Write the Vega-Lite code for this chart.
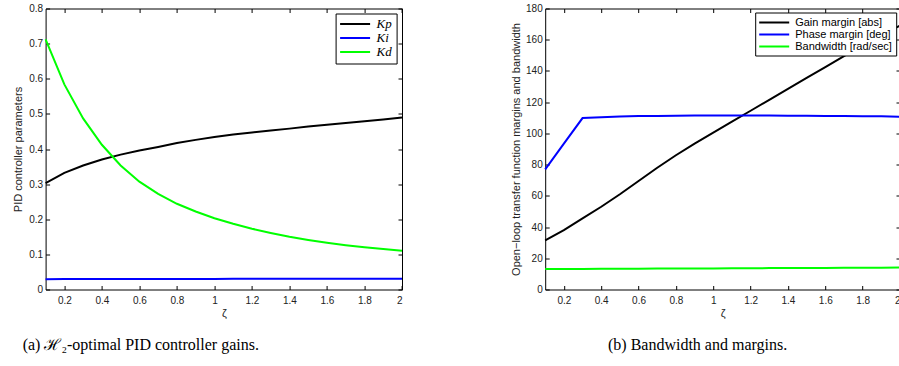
{
  "$schema": "https://vega.github.io/schema/vega-lite/v6.json",
  "autosize": {"type": "none"},
  "padding": {"left": 45.6, "top": 8.5, "right": 853.4, "bottom": 357.5},
  "background": "white",
  "datasets": {
    "gains": [
      {"z": 0.1, "Kp": 0.303, "Ki": 0.0295, "Kd": 0.712},
      {"z": 0.2, "Kp": 0.332, "Ki": 0.0297, "Kd": 0.584},
      {"z": 0.3, "Kp": 0.353, "Ki": 0.0298, "Kd": 0.487},
      {"z": 0.4, "Kp": 0.370, "Ki": 0.0299, "Kd": 0.412},
      {"z": 0.5, "Kp": 0.384, "Ki": 0.0300, "Kd": 0.353},
      {"z": 0.6, "Kp": 0.396, "Ki": 0.0300, "Kd": 0.307},
      {"z": 0.7, "Kp": 0.406, "Ki": 0.0301, "Kd": 0.272},
      {"z": 0.8, "Kp": 0.417, "Ki": 0.0301, "Kd": 0.244},
      {"z": 0.9, "Kp": 0.426, "Ki": 0.0302, "Kd": 0.222},
      {"z": 1.0, "Kp": 0.434, "Ki": 0.0302, "Kd": 0.203},
      {"z": 1.1, "Kp": 0.441, "Ki": 0.0303, "Kd": 0.187},
      {"z": 1.2, "Kp": 0.447, "Ki": 0.0303, "Kd": 0.173},
      {"z": 1.3, "Kp": 0.453, "Ki": 0.0304, "Kd": 0.161},
      {"z": 1.4, "Kp": 0.458, "Ki": 0.0304, "Kd": 0.150},
      {"z": 1.5, "Kp": 0.464, "Ki": 0.0305, "Kd": 0.141},
      {"z": 1.6, "Kp": 0.469, "Ki": 0.0305, "Kd": 0.133},
      {"z": 1.7, "Kp": 0.474, "Ki": 0.0306, "Kd": 0.126},
      {"z": 1.8, "Kp": 0.479, "Ki": 0.0306, "Kd": 0.120},
      {"z": 1.9, "Kp": 0.484, "Ki": 0.0307, "Kd": 0.115},
      {"z": 2.0, "Kp": 0.490, "Ki": 0.0307, "Kd": 0.110}
    ],
    "loop": [
      {"z": 0.1, "gm": 31.5, "pm": 77.0, "bw": 13.2},
      {"z": 0.2, "gm": 38.0, "pm": 93.4, "bw": 13.2},
      {"z": 0.3, "gm": 45.5, "pm": 109.8, "bw": 13.2},
      {"z": 0.4, "gm": 53.0, "pm": 110.4, "bw": 13.3},
      {"z": 0.5, "gm": 61.0, "pm": 110.8, "bw": 13.3},
      {"z": 0.6, "gm": 69.5, "pm": 111.1, "bw": 13.3},
      {"z": 0.7, "gm": 78.0, "pm": 111.2, "bw": 13.4},
      {"z": 0.8, "gm": 86.0, "pm": 111.3, "bw": 13.4},
      {"z": 0.9, "gm": 93.5, "pm": 111.4, "bw": 13.5},
      {"z": 1.0, "gm": 100.5, "pm": 111.4, "bw": 13.5},
      {"z": 1.1, "gm": 107.5, "pm": 111.4, "bw": 13.6},
      {"z": 1.2, "gm": 114.5, "pm": 111.4, "bw": 13.6},
      {"z": 1.3, "gm": 121.5, "pm": 111.4, "bw": 13.7},
      {"z": 1.4, "gm": 128.5, "pm": 111.3, "bw": 13.7},
      {"z": 1.5, "gm": 135.5, "pm": 111.3, "bw": 13.8},
      {"z": 1.6, "gm": 142.5, "pm": 111.2, "bw": 13.8},
      {"z": 1.7, "gm": 149.5, "pm": 111.1, "bw": 13.9},
      {"z": 1.8, "gm": 156.5, "pm": 111.0, "bw": 13.9},
      {"z": 1.9, "gm": 163.0, "pm": 110.9, "bw": 14.0},
      {"z": 2.0, "gm": 169.0, "pm": 110.7, "bw": 14.1}
    ]
  },
  "spacing": 142.6,
  "bounds": "flush",
  "resolve": {"scale": {"color": "independent"}},
  "hconcat": [
    {
      "width": 356.4,
      "height": 281,
      "title": {
        "text": "(a) ℋ₂-optimal PID controller gains.",
        "orient": "bottom",
        "anchor": "middle",
        "dx": -83,
        "offset": 18,
        "font": "Liberation Serif",
        "fontSize": 16,
        "fontWeight": "normal",
        "color": "black"
      },
      "data": {"name": "gains"},
      "transform": [{"fold": ["Kp", "Ki", "Kd"], "as": ["param", "value"]}],
      "layer": [
        {
          "mark": {"type": "line", "strokeWidth": 2},
          "encoding": {
            "x": {
              "field": "z", "type": "quantitative",
              "scale": {"domain": [0.1, 2], "nice": false, "zero": false},
              "axis": {"title": "ζ", "values": [0.2, 0.4, 0.6, 0.8, 1, 1.2, 1.4, 1.6, 1.8, 2], "format": "~g", "labelPadding": 10, "titlePadding": 2}
            },
            "y": {
              "field": "value", "type": "quantitative",
              "scale": {"domain": [0, 0.8], "nice": false},
              "axis": {"title": "PID controller parameters", "values": [0, 0.1, 0.2, 0.3, 0.4, 0.5, 0.6, 0.7, 0.8], "format": "~g", "labelPadding": 7, "titlePadding": 5}
            },
            "color": {
              "field": "param", "type": "nominal",
              "scale": {"domain": ["Kp", "Ki", "Kd"], "range": ["#000000", "#0000ff", "#00ff00"]},
              "legend": {
                "title": null,
                "labelFont": "Liberation Serif",
                "labelFontStyle": "italic",
                "labelFontSize": 13,
                "rowPadding": -2
              }
            }
          }
        },
        {
          "mark": {"type": "line", "opacity": 0},
          "encoding": {
            "x": {"field": "z", "type": "quantitative", "axis": {"orient": "top", "labels": false, "title": null, "values": [0.2, 0.4, 0.6, 0.8, 1, 1.2, 1.4, 1.6, 1.8, 2]}},
            "y": {"field": "value", "type": "quantitative", "axis": {"orient": "right", "labels": false, "title": null, "values": [0, 0.1, 0.2, 0.3, 0.4, 0.5, 0.6, 0.7, 0.8]}},
            "detail": {"field": "param"}
          }
        }
      ],
      "resolve": {"axis": {"x": "independent", "y": "independent"}}
    },
    {
      "width": 354.8,
      "height": 281,
      "title": {
        "text": "(b) Bandwidth and margins.",
        "orient": "bottom",
        "anchor": "middle",
        "dx": -25,
        "offset": 18,
        "font": "Liberation Serif",
        "fontSize": 16,
        "fontWeight": "normal",
        "color": "black"
      },
      "data": {"name": "loop"},
      "transform": [{"fold": ["gm", "pm", "bw"], "as": ["metric", "value"]}],
      "layer": [
        {
          "mark": {"type": "line", "strokeWidth": 2},
          "encoding": {
            "x": {
              "field": "z", "type": "quantitative",
              "scale": {"domain": [0.1, 2], "nice": false, "zero": false},
              "axis": {"title": "ζ", "values": [0.2, 0.4, 0.6, 0.8, 1, 1.2, 1.4, 1.6, 1.8, 2], "format": "~g", "labelPadding": 10, "titlePadding": 2}
            },
            "y": {
              "field": "value", "type": "quantitative",
              "scale": {"domain": [0, 180], "nice": false},
              "axis": {"title": "Open−loop transfer function margins and bandwidth", "values": [0, 20, 40, 60, 80, 100, 120, 140, 160, 180], "labelPadding": 7, "titlePadding": 4}
            },
            "color": {
              "field": "metric", "type": "nominal",
              "scale": {"domain": ["gm", "pm", "bw"], "range": ["#000000", "#0000ff", "#00ff00"]},
              "legend": {
                "title": null,
                "labelExpr": "{'gm': 'Gain margin [abs]', 'pm': 'Phase margin [deg]', 'bw': 'Bandwidth [rad/sec]'}[datum.label]",
                "labelFont": "Liberation Sans",
                "labelFontSize": 11,
                "rowPadding": 1,
                "offset": 4
              }
            }
          }
        },
        {
          "mark": {"type": "line", "opacity": 0},
          "encoding": {
            "x": {"field": "z", "type": "quantitative", "axis": {"orient": "top", "labels": false, "title": null, "values": [0.2, 0.4, 0.6, 0.8, 1, 1.2, 1.4, 1.6, 1.8, 2]}},
            "y": {"field": "value", "type": "quantitative", "axis": {"orient": "right", "labels": false, "title": null, "values": [0, 20, 40, 60, 80, 100, 120, 140, 160, 180]}},
            "detail": {"field": "metric"}
          }
        }
      ],
      "resolve": {"axis": {"x": "independent", "y": "independent"}}
    }
  ],
  "config": {
    "view": {"stroke": "black", "strokeWidth": 1},
    "axis": {
      "domain": false,
      "grid": false,
      "tickColor": "black",
      "tickSize": -4,
      "tickWidth": 1,
      "labelFont": "Liberation Sans",
      "labelFontSize": 10,
      "labelColor": "#222222",
      "titleFont": "Liberation Sans",
      "titleFontSize": 11,
      "titleFontWeight": "normal",
      "titleColor": "#222222"
    },
    "legend": {
      "orient": "top-right",
      "offset": 5,
      "fillColor": "white",
      "strokeColor": "black",
      "padding": 4,
      "symbolType": "M-3,0H3",
      "symbolSize": 100,
      "symbolStrokeWidth": 2,
      "symbolOffset": 9,
      "labelOffset": 15,
      "labelColor": "black"
    }
  }
}
